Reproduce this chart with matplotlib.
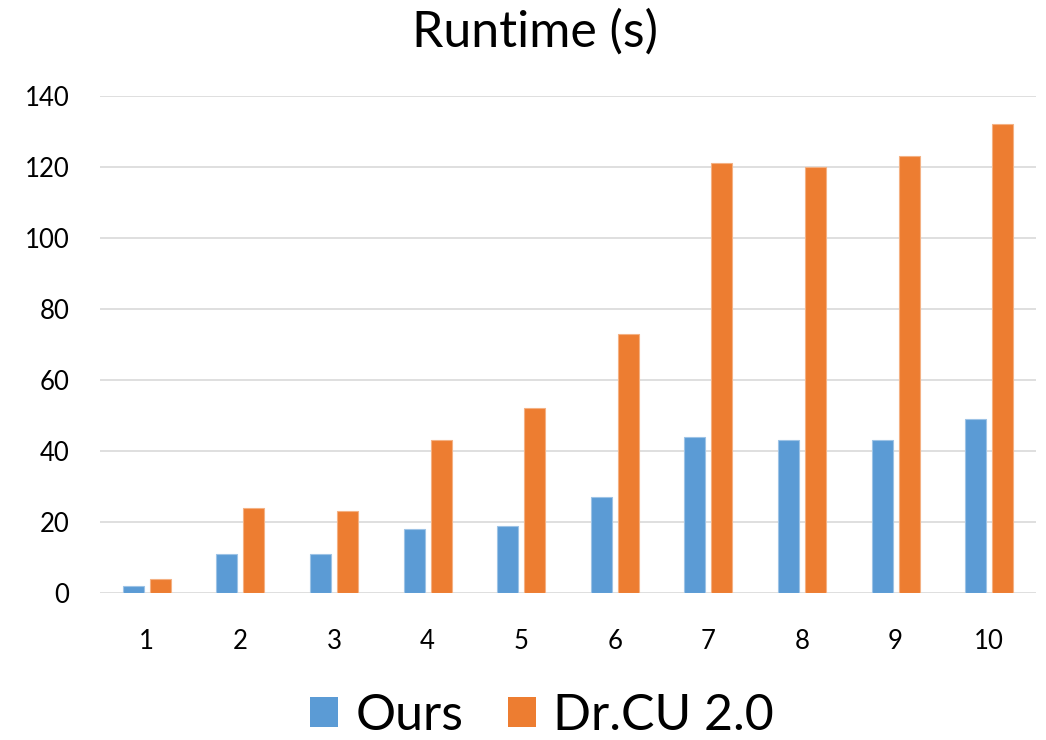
import matplotlib
matplotlib.use("Agg")
import matplotlib.pyplot as plt
import numpy as np
from matplotlib.patches import Patch

categories = ["1", "2", "3", "4", "5", "6", "7", "8", "9", "10"]
ours = [2, 11, 11, 18, 19, 27, 44, 43, 43, 49]
drcu = [4, 24, 23, 43, 52, 73, 121, 120, 123, 132]
yticks = [0, 20, 40, 60, 80, 100, 120, 140]

plt.rcParams['font.family'] = ['Lato', 'DejaVu Sans']

fig = plt.figure(figsize=(10.46, 7.4), dpi=100)
ax = fig.add_axes([100/1046, 147/740, 936/1046, 497/740])

x = np.arange(len(categories))
w = 0.225
off = 0.144
ax.bar(x - off, ours, w, color='#5B9BD5', edgecolor='#9DC3E6', linewidth=0.8, zorder=3)
ax.bar(x + off, drcu, w, color='#ED7D31', edgecolor='#F4B183', linewidth=0.8, zorder=3)

ax.set_xlim(-0.5, len(categories) - 0.5)
ax.set_ylim(0, 140)
ax.set_yticks(yticks)
ax.set_yticklabels([str(t) for t in yticks], fontsize=18.5)
ax.set_xticks(x)
ax.set_xticklabels(categories, fontsize=18.5)
ax.tick_params(axis='both', length=0)
ax.tick_params(axis='y', pad=22)
ax.tick_params(axis='x', pad=26)
ax.grid(axis='y', color='#D9D9D9', linewidth=1.2, zorder=0)
for s in ax.spines.values():
    s.set_visible(False)

fig.text(535/1046, 1 - 32/740, "Runtime (s)", ha='center', va='center', fontsize=36)

handles = [Patch(facecolor='#5B9BD5', label='Ours'), Patch(facecolor='#ED7D31', label='Dr.CU 2.0')]
fig.legend(handles=handles, loc='center', bbox_to_anchor=(542/1046, 1 - 716/740), ncol=2, frameon=False,
           fontsize=36, handlelength=0.55, handleheight=0.55, handletextpad=0.35, columnspacing=0.9)

fig.savefig("out.png", dpi=100)
